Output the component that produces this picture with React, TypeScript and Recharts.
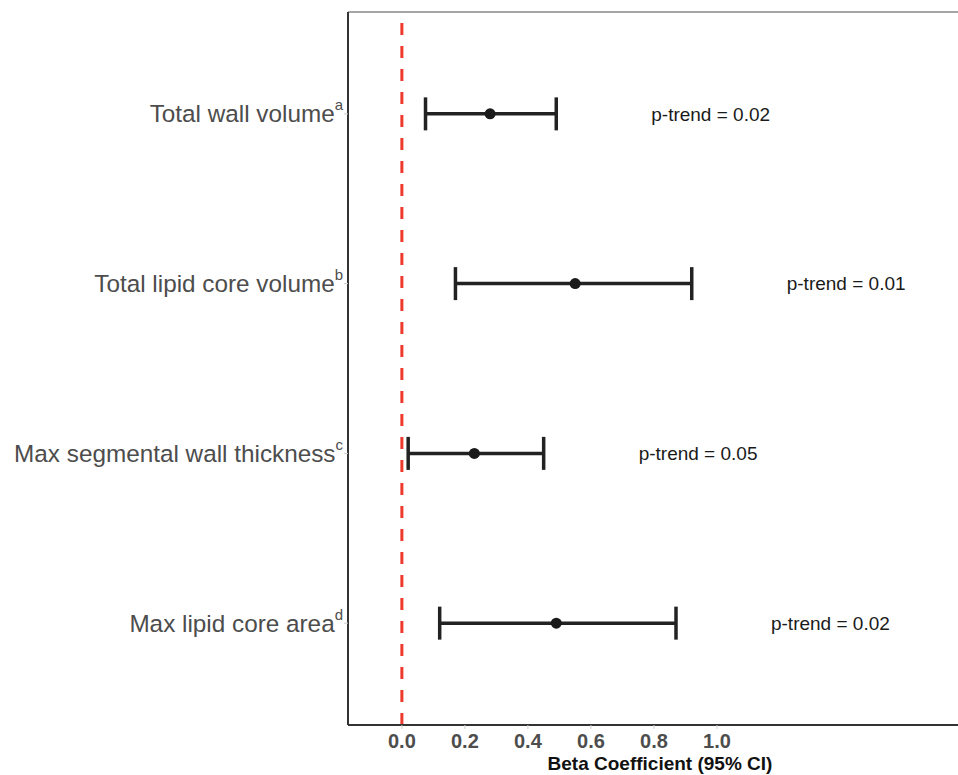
import React from "react";
import { ScatterChart, Scatter, XAxis, YAxis, ErrorBar, ReferenceLine } from "recharts";

const categories = ["Total wall volume", "Total lipid core volume", "Max segmental wall thickness", "Max lipid core area"];
const superscripts = ["a", "b", "c", "d"];
const betas = [0.28, 0.55, 0.23, 0.49];
const lowers = [0.075, 0.17, 0.02, 0.12];
const uppers = [0.49, 0.92, 0.45, 0.87];
const pTrends = ["p-trend = 0.02", "p-trend = 0.01", "p-trend = 0.05", "p-trend = 0.02"];
const xTicks = [0, 0.2, 0.4, 0.6, 0.8, 1.0];
const labelOffset = 0.49;

const pointData = categories.map((c, i) => ({
  x: betas[i],
  y: i + 1,
  err: [betas[i] - lowers[i], uppers[i] - betas[i]],
}));
const labelData = categories.map((c, i) => ({
  x: uppers[i] + labelOffset,
  y: i + 1,
  label: pTrends[i],
}));

const FONT = "'Liberation Sans', Arial, Helvetica, sans-serif";

const YTick = (props: any) => {
  const { x, y, payload } = props;
  const idx = Math.round(payload.value) - 1;
  if (idx < 0 || idx >= categories.length) return null;
  return (
    <text x={x} y={y} textAnchor="end" fontFamily={FONT} fontSize={24.3} fill="#4d4d4d" dy="0.35em">
      {categories[idx]}
      <tspan fontSize={15} dy={-12}>{superscripts[idx]}</tspan>
    </text>
  );
};

const Dot = (props: any) => <circle cx={props.cx} cy={props.cy} r={5.5} fill="#1a1a1a" />;

const PLabel = (props: any) => (
  <text x={props.cx} y={props.cy} textAnchor="middle" dy="0.35em" fontFamily={FONT} fontSize={19} fill="#1a1a1a">
    {props.payload.label}
  </text>
);

export default function App() {
  return (
    <div style={{ position: "absolute", left: 0, top: 0, background: "#fff" }}>
      <ScatterChart width={958} height={775} margin={{ top: 12, right: 0, bottom: 0, left: 0 }}>
        <XAxis
          type="number"
          dataKey="x"
          domain={[-0.171, 1.765]}
          allowDataOverflow
          ticks={xTicks}
          tickFormatter={(v: number) => v.toFixed(1)}
          height={50}
          tick={{ fontFamily: FONT, fontSize: 20, fontWeight: 700, fill: "#4d4d4d" }}
          tickLine={{ stroke: "#d0d0d0", strokeWidth: 1 }}
          tickSize={4}
          tickMargin={5}
          axisLine={{ stroke: "#333", strokeWidth: 2 }}
          label={{
            value: "Beta Coefficient (95% CI)",
            position: "insideBottom",
            offset: 5,
            dx: 7,
            style: { fontFamily: FONT, fontSize: 19, fontWeight: 700, fill: "#111" },
          }}
        />
        <YAxis
          type="number"
          dataKey="y"
          domain={[0.4, 4.6]}
          reversed
          ticks={[1, 2, 3, 4]}
          width={348}
          tick={<YTick />}
          tickLine={{ stroke: "#cfcfcf", strokeWidth: 1 }}
          tickSize={4}
          tickMargin={1}
          axisLine={{ stroke: "#333", strokeWidth: 2 }}
        />
        <ReferenceLine y={0.4} stroke="#888" strokeWidth={1.5} />
        <ReferenceLine x={0} stroke="#ee3a2c" strokeWidth={3} strokeDasharray="12 11" />
        <Scatter data={pointData} shape={<Dot />} isAnimationActive={false}>
          <ErrorBar dataKey="err" direction="x" width={16.5} strokeWidth={3.5} stroke="#222" />
        </Scatter>
        <Scatter data={labelData} shape={<PLabel />} isAnimationActive={false} />
      </ScatterChart>
    </div>
  );
}
